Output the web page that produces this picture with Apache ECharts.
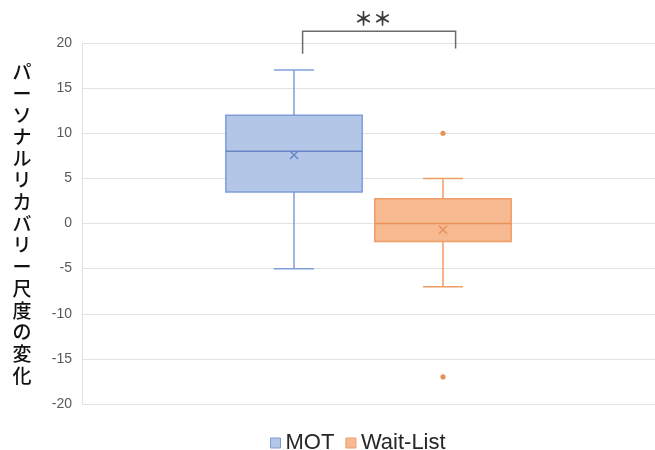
<!DOCTYPE html>
<html>
<head>
<meta charset="utf-8">
<script src="https://cdn.jsdelivr.net/npm/echarts@6/dist/echarts.min.js"></script>
<style>
  html, body { margin: 0; padding: 0; background: #ffffff; }
  #chart { width: 655px; height: 450px; }
</style>
</head>
<body>
<div id="chart"></div>
<script>
// Groups shown side by side inside one band
const groups = ['MOT', 'Wait-List'];
// Five-number summaries: min, Q1, median, Q3, max
const motBox = [-5, 3.5, 8, 12, 17];
const waitBox = [-7, -2, 0, 2.75, 5];
// Group means (drawn as ×)
const groupMeans = [7.6, -0.7];
// Outlying observations of the Wait-List group
const waitOutliers = [10, -17];
// Value axis range and step
const yMin = -20, yMax = 20, yStep = 5;
// Significance bracket: top, left leg end, right leg end, label level
const bracketLevels = [21.3, 18.8, 19.4, 22.7];
const sigLabel = '＊＊';
const yTitle = 'パーソナルリカバリー尺度の変化';

const palette = {
  MOT: { fill: '#b3c6e8', line: '#7f9dd8', median: '#6886c6' },
  'Wait-List': { fill: '#f6b990', line: '#ef9d66', median: '#e99058' }
};
// horizontal placement within the band (fraction of band width)
const groupOffset = [-0.13, 0.13];
const boxHalf = 0.119;
const capHalf = 0.035;

function boxRender(groupIdx) {
  const c = palette[groups[groupIdx]];
  return function (params, api) {
    const band = api.size([1, 0])[0];
    const cx = api.coord([0, 0])[0] + groupOffset[groupIdx] * band;
    const hw = boxHalf * band, cw = capHalf * band;
    const y = i => api.coord([0, api.value(i)])[1];
    const yLo = y(1), yQ1 = y(2), yMed = y(3), yQ3 = y(4), yHi = y(5), yMean = y(6);
    const ls = { stroke: c.line, lineWidth: 1.5, fill: null };
    const m = 4;
    return {
      type: 'group',
      children: [
        { type: 'line', shape: { x1: cx, y1: yQ3, x2: cx, y2: yHi }, style: ls },
        { type: 'line', shape: { x1: cx - cw, y1: yHi, x2: cx + cw, y2: yHi }, style: ls },
        { type: 'line', shape: { x1: cx, y1: yQ1, x2: cx, y2: yLo }, style: ls },
        { type: 'line', shape: { x1: cx - cw, y1: yLo, x2: cx + cw, y2: yLo }, style: ls },
        { type: 'rect', shape: { x: cx - hw, y: yQ3, width: 2 * hw, height: yQ1 - yQ3 },
          style: { fill: c.fill, stroke: c.line, lineWidth: 1.5 } },
        { type: 'line', shape: { x1: cx - hw, y1: yMed, x2: cx + hw, y2: yMed },
          style: { stroke: c.median, lineWidth: 1.5 } },
        { type: 'line', shape: { x1: cx - m, y1: yMean - m, x2: cx + m, y2: yMean + m },
          style: { stroke: c.median, lineWidth: 1.5 } },
        { type: 'line', shape: { x1: cx - m, y1: yMean + m, x2: cx + m, y2: yMean - m },
          style: { stroke: c.median, lineWidth: 1.5 } }
      ]
    };
  };
}

function outlierRender(groupIdx) {
  const c = palette[groups[groupIdx]];
  return function (params, api) {
    const band = api.size([1, 0])[0];
    const p = api.coord([0, api.value(1)]);
    return {
      type: 'circle',
      shape: { cx: p[0] + groupOffset[groupIdx] * band, cy: p[1], r: 2.6 },
      style: { fill: c.median }
    };
  };
}

function bracketRender(params, api) {
  const band = api.size([1, 0])[0];
  const x0 = api.coord([0, 0])[0];
  const xl = x0 - 0.115 * band, xr = x0 + 0.152 * band;
  const yTop = api.coord([0, api.value(1)])[1];
  const yL = api.coord([0, api.value(2)])[1];
  const yR = api.coord([0, api.value(3)])[1];
  const yTxt = api.coord([0, api.value(4)])[1];
  const st = { stroke: '#6b6b6b', lineWidth: 1.5, fill: null };
  return {
    type: 'group',
    children: [
      { type: 'polyline', shape: { points: [[xl, yL], [xl, yTop], [xr, yTop], [xr, yR]] }, style: st },
      { type: 'text', x: (xl + xr) / 2 - 6, y: yTxt,
        style: { text: sigLabel, fill: '#3a3a3a', font: 'bold 19px "Noto Sans CJK JP"',
                 align: 'center', verticalAlign: 'middle' } }
    ]
  };
}

const chart = echarts.init(document.getElementById('chart'), null, { renderer: 'canvas' });

chart.setOption({
  animation: false,
  backgroundColor: '#ffffff',
  grid: { left: 82, right: 0, top: 43, bottom: 46 },
  legend: {
    left: 265, top: 427,
    itemWidth: 10, itemHeight: 10, itemGap: 11,
    textStyle: { fontFamily: 'Liberation Sans', fontSize: 22, color: '#262626' },
    data: [
      { name: 'MOT', icon: 'rect', itemStyle: { color: palette.MOT.fill, borderColor: palette.MOT.line, borderWidth: 1 } },
      { name: 'Wait-List', icon: 'rect', itemStyle: { color: palette['Wait-List'].fill, borderColor: palette['Wait-List'].line, borderWidth: 1 } }
    ]
  },
  xAxis: {
    type: 'category',
    data: [''],
    axisLine: { show: false }, axisTick: { show: false }, axisLabel: { show: false },
    splitLine: { show: false }
  },
  yAxis: {
    type: 'value',
    min: yMin, max: yMax, interval: yStep,
    name: yTitle.split('').join('\n'),
    nameLocation: 'middle',
    nameRotate: 0,
    nameGap: 60,
    nameTextStyle: { fontFamily: 'Noto Sans CJK JP', fontSize: 19, lineHeight: 21.7, color: '#111111', fontWeight: 500, align: 'center' },
    axisLine: { show: true, lineStyle: { color: '#e2e2e2', width: 1 } },
    axisTick: { show: false },
    axisLabel: { color: '#595959', fontFamily: 'Liberation Sans', fontSize: 14, margin: 10 },
    splitLine: { lineStyle: { color: '#e2e2e2', width: 1.2 } }
  },
  series: [
    {
      name: 'MOT', type: 'custom', renderItem: boxRender(0),
      itemStyle: { color: palette.MOT.fill },
      encode: { x: 0, y: [1, 2, 3, 4, 5, 6] },
      data: [[0].concat(motBox, [groupMeans[0]])]
    },
    {
      name: 'Wait-List', type: 'custom', renderItem: boxRender(1),
      itemStyle: { color: palette['Wait-List'].fill },
      encode: { x: 0, y: [1, 2, 3, 4, 5, 6] },
      data: [[0].concat(waitBox, [groupMeans[1]])]
    },
    {
      name: 'Wait-List', type: 'custom', renderItem: outlierRender(1),
      encode: { x: 0, y: 1 },
      data: waitOutliers.map(v => [0, v])
    },
    {
      name: 'significance', type: 'custom', renderItem: bracketRender,
      clip: false, silent: true,
      encode: { x: 0, y: [1, 2, 3, 4] },
      data: [[0].concat(bracketLevels)]
    }
  ]
});
</script>
</body>
</html>
